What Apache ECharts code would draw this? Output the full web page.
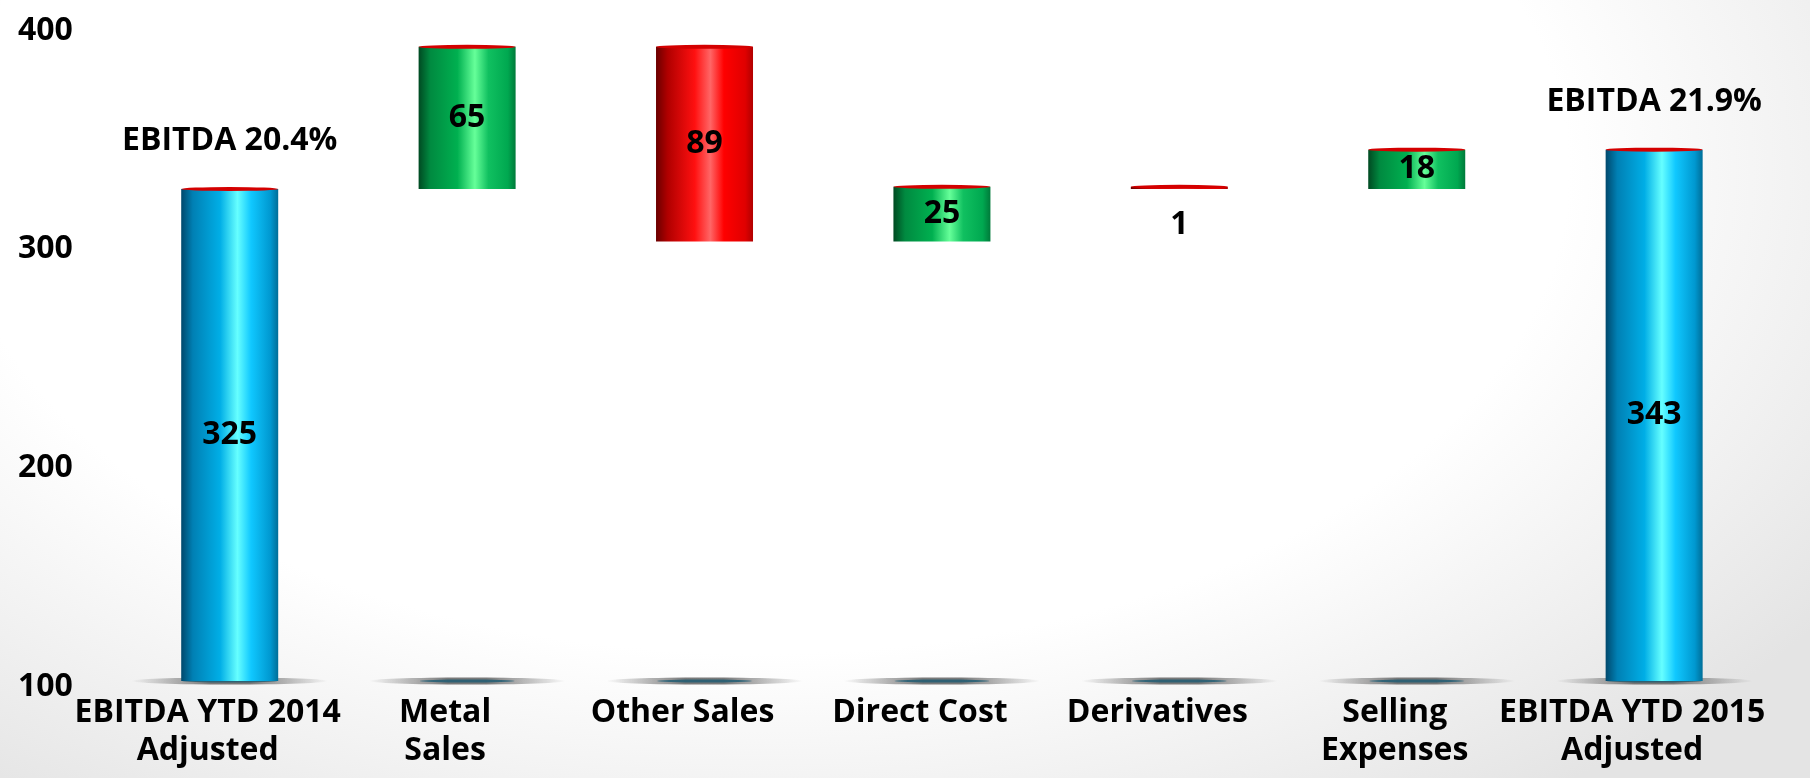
<!DOCTYPE html>
<html>
<head>
<meta charset="utf-8">
<script src="https://cdn.jsdelivr.net/npm/echarts@6/dist/echarts.min.js"></script>
<style>
  html, body { margin: 0; padding: 0; }
  #chart {
    width: 1810px; height: 778px;
    background: radial-gradient(ellipse 72% 100% at 42% 22%, #ffffff 62%, #e4e4e4 100%);
  }
</style>
</head>
<body>
<div id="chart"></div>
<script>
// ---- data ----
const categories = ['EBITDA YTD 2014\nAdjusted', 'Metal\nSales', 'Other Sales', 'Direct Cost', 'Derivatives', 'Selling\nExpenses', 'EBITDA YTD 2015\nAdjusted'];
const startValue = 325;
const changes = [65, -89, 25, -1, 18];
const endValue = 343;
const marginLabels = ['EBITDA 20.4%', 'EBITDA 21.9%'];
const yTicks = [100, 200, 300, 400];

// ---- waterfall build ----
const base = [0], shown = [startValue], tops = [startValue], kinds = ['total'];
let run = startValue;
changes.forEach(c => {
  if (c >= 0) { base.push(run); shown.push(c); tops.push(run + c); kinds.push('up'); }
  else { base.push(run + c); shown.push(-c); tops.push(run); kinds.push('down'); }
  run += c;
});
base.push(0); shown.push(endValue); tops.push(endValue); kinds.push('total');

const topText = [];
let mi = 0;
kinds.forEach(k => topText.push(k === 'total' ? marginLabels[mi++] : ''));

function grad(stops) {
  return { type: 'linear', x: 0, y: 0, x2: 1, y2: 0,
    colorStops: stops.map(s => ({ offset: s[0], color: s[1] })) };
}
const fills = {
  total: grad([[0, '#00486c'], [0.12, '#0080b4'], [0.4, '#00aee6'], [0.58, '#66ffff'], [0.72, '#10c8ff'], [0.92, '#0098d0'], [1, '#006e98']]),
  up: grad([[0, '#004a22'], [0.12, '#008a40'], [0.4, '#00b050'], [0.58, '#66ff99'], [0.72, '#10c060'], [0.92, '#00a850'], [1, '#007a3a']]),
  down: grad([[0, '#6a0000'], [0.12, '#b00000'], [0.4, '#ff1010'], [0.56, '#ff6666'], [0.7, '#ff0000'], [0.92, '#e00000'], [1, '#b00000']])
};

const font = '"Open Sans", Lato, sans-serif';
const txt = { color: '#000', fontFamily: font, fontWeight: 'bold', fontSize: 32 };
const yMin = yTicks[0], yMax = yTicks[yTicks.length - 1];
const barW = 97;

const chart = echarts.init(document.getElementById('chart'), null, { renderer: 'canvas' });
chart.setOption({
  backgroundColor: 'transparent',
  animation: false,
  grid: { left: 111, right: 5, top: 25, bottom: 97, containLabel: false },
  xAxis: {
    type: 'category', data: categories,
    axisLine: { show: false }, axisTick: { show: false },
    axisLabel: Object.assign({ interval: 0, margin: 13, lineHeight: 38, padding: [0, 44, 0, 0] }, txt)
  },
  yAxis: {
    type: 'value', min: yMin, max: yMax, interval: yTicks[1] - yTicks[0],
    axisLine: { show: false }, axisTick: { show: false }, splitLine: { show: false },
    axisLabel: Object.assign({ align: 'left', margin: 93, formatter: '{t|{value}}',
      rich: { t: Object.assign({ padding: [11, 0, 0, 0] }, txt) } }, txt)
  },
  series: [
    {
      type: 'scatter', z: 1, silent: true,
      symbol: 'circle', symbolSize: [196, 7],
      itemStyle: { color: grad([[0, 'rgba(90,90,90,0)'], [0.2, 'rgba(90,90,90,0.5)'], [0.4, 'rgba(70,70,70,0.9)'], [0.6, 'rgba(70,70,70,0.9)'], [0.8, 'rgba(90,90,90,0.5)'], [1, 'rgba(90,90,90,0)']]) },
      data: categories.map((c, i) => [i, yMin])
    },
    {
      type: 'scatter', z: 2, silent: true,
      symbol: 'circle', symbolSize: [95, 3],
      itemStyle: { color: '#1b5a72' },
      data: categories.map((c, i) => [i, yMin])
    },
    {
      type: 'bar', stack: 'wf', z: 3, barWidth: barW,
      itemStyle: { color: 'transparent' },
      data: base
    },
    {
      type: 'bar', stack: 'wf', z: 3, barWidth: barW,
      data: shown.map((v, i) => ({
        value: v,
        itemStyle: { color: fills[kinds[i]] },
        label: v < 5 ? { position: 'bottom', distance: 20 } : { position: 'inside' }
      })),
      label: Object.assign({ show: true }, txt)
    },
    {
      type: 'scatter', z: 4, silent: true,
      symbol: 'circle', symbolSize: [barW, 4],
      itemStyle: { color: '#d40000', opacity: 1 },
      label: Object.assign({ show: true, position: 'top', distance: 30,
        formatter: p => topText[p.dataIndex] }, txt),
      emphasis: { disabled: true },
      data: tops.map((t, i) => [i, t])
    }
  ]
});
</script>
</body>
</html>
